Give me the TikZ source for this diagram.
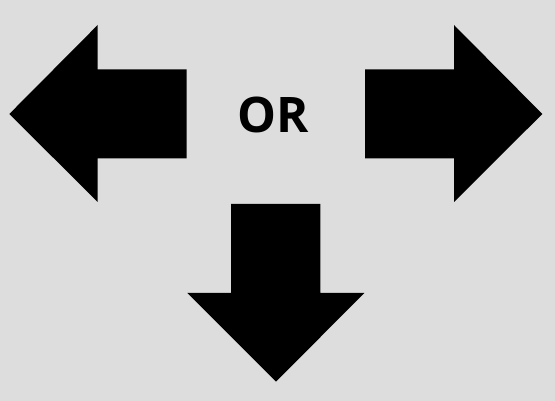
\documentclass[tikz,border=0pt]{standalone}
\usepackage{fontspec}
\setmainfont{Open Sans}
\definecolor{bg}{RGB}{221,221,221}
\tikzset{arrowshape/.style={fill=black,draw=none}}
\begin{document}
\begin{tikzpicture}[x=1pt,y=-1pt]
\fill[bg] (0,0) rectangle (555,401);
\useasboundingbox (0,0) rectangle (555,401);
% left arrow
\fill[arrowshape] (9.3,114) -- (97.7,25) -- (97.7,69.3) -- (186.7,69.3) -- (186.7,158.3) -- (97.7,158.3) -- (97.7,202) -- cycle;
% right arrow
\fill[arrowshape] (542.3,114) -- (454,25) -- (454,69.3) -- (365,69.3) -- (365,158.3) -- (454,158.3) -- (454,202) -- cycle;
% down arrow
\fill[arrowshape] (276,381.7) -- (187.3,293) -- (231,293) -- (231,204) -- (320.3,204) -- (320.3,293) -- (364.3,293) -- cycle;
\node[anchor=base,inner sep=0pt,font=\fontsize{49}{52}\selectfont\bfseries] (or) at (273.3,132.9) {OR};
\end{tikzpicture}
\end{document}
